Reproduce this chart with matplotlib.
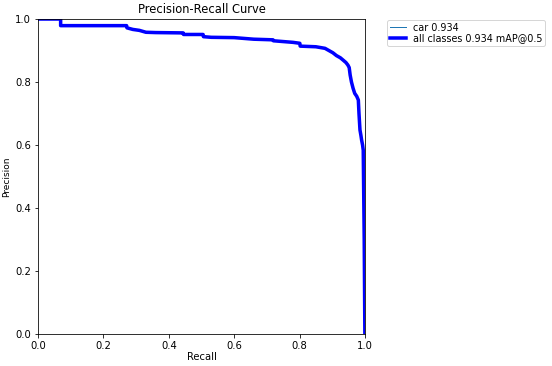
import matplotlib
matplotlib.use("Agg")
import matplotlib.pyplot as plt

# PR curve (recall, precision), steps as repeated x
recall = [0.0, 0.069, 0.069, 0.271, 0.272, 0.29, 0.31, 0.33, 0.36, 0.444, 0.445, 0.505, 0.506,
          0.53, 0.60, 0.66, 0.719, 0.72, 0.78, 0.801, 0.802, 0.85, 0.878, 0.89, 0.902,
          0.913, 0.925, 0.933, 0.942, 0.948, 0.952, 0.955, 0.959, 0.964, 0.969, 0.975,
          0.980, 0.982, 0.985, 0.988, 0.990, 0.993, 0.995, 0.998, 1.0]
precision = [1.0, 1.0, 0.979, 0.979, 0.972, 0.967, 0.964, 0.958, 0.957, 0.956, 0.951, 0.951, 0.944,
             0.942, 0.941, 0.936, 0.934, 0.931, 0.926, 0.923, 0.914, 0.912, 0.907, 0.900, 0.893,
             0.884, 0.877, 0.870, 0.862, 0.854, 0.846, 0.822, 0.800, 0.780, 0.764, 0.755,
             0.743, 0.700, 0.648, 0.630, 0.616, 0.600, 0.584, 0.30, 0.0]

names = ["car"]
ap = [0.934]
map50 = 0.934

dpi = 72
fig, ax = plt.subplots(1, 1, figsize=(552 / dpi, 366 / dpi), dpi=dpi)
fig.subplots_adjust(left=0.069, right=0.661, top=0.948, bottom=0.087)

ax.plot(recall, precision, linewidth=1, label=f"{names[0]} {ap[0]:.3f}")
ax.plot(recall, precision, linewidth=3.5, color="blue", label=f"all classes {map50:.3f} mAP@0.5")

ax.set_xlabel("Recall", labelpad=1)
ax.set_ylabel("Precision", fontsize=9)
ax.set_xlim(0, 1)
ax.set_ylim(0, 1)
ax.legend(bbox_to_anchor=(1.069, 0.997), loc="upper left", borderaxespad=0, fontsize=9.6,
          labelspacing=0.05, borderpad=0.3, handlelength=1.6, handletextpad=0.75)
ax.set_title("Precision-Recall Curve", fontsize=11.5)

fig.savefig("out.png", dpi=dpi)
